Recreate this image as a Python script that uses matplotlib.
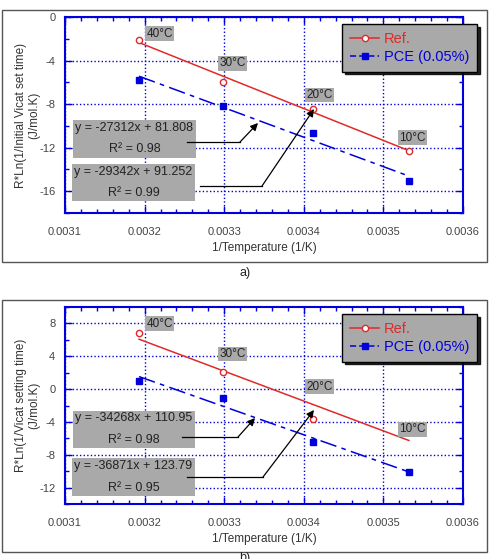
import numpy as np
import matplotlib
matplotlib.use("Agg")
import matplotlib.pyplot as plt
from matplotlib.patches import Rectangle
from matplotlib.ticker import MultipleLocator, FixedLocator

plt.rcParams['font.family'] = ['Liberation Sans', 'DejaVu Sans']

# ---------------- data ----------------
temp_labels = ['40°C', '30°C', '20°C', '10°C']
inv_temp = [0.003193, 0.003299, 0.003411, 0.003532]

a_ref = [-2.1, -5.96, -8.44, -12.3]
a_pce = [-5.78, -8.17, -10.64, -15.1]
b_ref = [6.78, 2.1, -3.6, -5.1]
b_pce = [1.02, -1.14, -6.4, -10.1]

series_names = ['Ref.', 'PCE (0.05%)']
a_eqs = [('y = -27312x + 81.808', 'R² = 0.98'), ('y = -29342x + 91.252', 'R² = 0.99')]
b_eqs = [('y = -34268x + 110.95', 'R² = 0.98'), ('y = -36871x + 123.79', 'R² = 0.95')]

x_ticks = [0.0031, 0.0032, 0.0033, 0.0034, 0.0035, 0.0036]
a_yticks = [-16, -12, -8, -4, 0]
b_yticks = [-12, -8, -4, 0, 4, 8]

ylabels = ['R*Ln(1/Initial Vicat set time)\n(J/mol.K)',
           'R*Ln(1/Vicat setting time)\n(J/mol.K)']
xlabel = '1/Temperature (1/K)'

RED = '#e02a2a'
BLUE = '#0000dd'
GRAY = '#a9a9a9'
TXT = '#444444'

fig = plt.figure(figsize=(4.9, 5.59), dpi=100)

# outer frames
for y0 in (1 - 262 / 559, 1 - 552 / 559):
    fig.patches.append(Rectangle((2 / 490, y0), 485 / 490, 252 / 559,
                                 transform=fig.transFigure, fill=False,
                                 edgecolor='#555555', lw=1.0))

axA = fig.add_axes([65 / 490, 1 - 213 / 559, 398 / 490, 196 / 559])
axB = fig.add_axes([65 / 490, 1 - 504 / 559, 398 / 490, 197 / 559])


def setup(ax, ylim, yticks, ylabel):
    ax.set_xlim(0.0031, 0.0036)
    ax.set_ylim(*ylim)
    ax.xaxis.set_major_locator(FixedLocator(x_ticks))
    ax.xaxis.set_minor_locator(MultipleLocator(0.00002))
    ax.yaxis.set_major_locator(FixedLocator(yticks))
    ax.yaxis.set_minor_locator(MultipleLocator(2))
    ax.set_xticklabels([f'{v:.4f}' for v in x_ticks])
    ax.set_yticklabels([f'{v:g}' for v in yticks])
    ax.tick_params(which='both', direction='in', top=True, right=True,
                   color=BLUE, labelcolor=TXT, labelsize=8)
    ax.tick_params(which='major', length=5, width=1)
    ax.tick_params(which='minor', length=3, width=1)
    ax.tick_params(axis='x', pad=10)
    ax.tick_params(axis='y', pad=7)
    for s in ax.spines.values():
        s.set_color(BLUE)
        s.set_linewidth(1.5)
    ax.grid(True, which='major', color=BLUE, linestyle=(0, (1, 1.6)), lw=1.0)
    ax.set_axisbelow(True)
    ax.set_ylabel(ylabel, fontsize=8.5, color='#333333', linespacing=1.1)
    ax.yaxis.set_label_coords(-0.062, 0.50)
    ax.set_xlabel(xlabel, fontsize=8.5, color='#333333')
    ax.xaxis.set_label_coords(0.5, -0.147)
    ax.xaxis.label.set_verticalalignment('top')


def draw(ax, ref, pce, eqs, label_pos, eq_boxes, arrows, leg_top):
    x = np.array(inv_temp)
    xl = np.array([x.min(), x.max()])
    # fit lines
    for y, col, ls in ((ref, RED, '-'), (pce, BLUE, (0, (11, 3.5, 3, 3.5)))):
        k, c = np.polyfit(x, y, 1)
        ax.plot(xl, k * xl + c, color=col, ls=ls, lw=1.1, zorder=3)
    ax.plot(x, ref, ls='none', marker='o', ms=4.5, mfc='white', mec=RED,
            mew=1.0, zorder=4)
    ax.plot(x, pce, ls='none', marker='s', ms=5, mfc=BLUE, mec=BLUE, zorder=4)
    # legend proxies
    h1, = ax.plot([], [], color=RED, ls='-', lw=1.1, marker='o', ms=4.5,
                  mfc='white', mec=RED, label=series_names[0])
    h2, = ax.plot([], [], color=BLUE, ls=(0, (4, 2)), lw=1.1, marker='s', ms=5,
                  mfc=BLUE, mec=BLUE, label=series_names[1])
    leg = ax.legend(handles=[h1, h2], loc='upper right',
                    bbox_to_anchor=(1.035, leg_top), fontsize=10.5,
                    labelcolor='linecolor', frameon=True, fancybox=False,
                    shadow={'color': 'black', 'alpha': 0.85},
                    facecolor=GRAY, edgecolor='black', framealpha=1,
                    handlelength=2.0, handletextpad=0.3, borderpad=0.55,
                    labelspacing=0.25, numpoints=1, borderaxespad=0)
    leg.get_frame().set_linewidth(1.0)
    leg.set_zorder(10)
    # temperature labels
    for t, (px, py) in zip(temp_labels, label_pos):
        ax.text(px, py, t, transform=ax.transAxes, ha='center', va='center',
                fontsize=8.5, color='#222222', zorder=6,
                bbox=dict(boxstyle='square,pad=0.12', fc=GRAY, ec='none'))
    # equation boxes
    for (l1, l2), (x0, x1, y0, y1, ty1, ty2) in zip(eqs, eq_boxes):
        ax.add_patch(Rectangle((x0, y0), x1 - x0, y1 - y0, transform=ax.transAxes,
                               fc=GRAY, ec='none', zorder=5))
        xc = (x0 + x1) / 2
        ax.text(xc, ty1, l1, transform=ax.transAxes, ha='center', va='center',
                fontsize=9, color='#222222', zorder=6)
        ax.text(xc, ty2, l2, transform=ax.transAxes, ha='center', va='center',
                fontsize=9, color='#222222', zorder=6)
    # arrows
    for (p0, p1, p2) in arrows:
        ax.plot([p0[0], p1[0]], [p0[1], p1[1]], color='black', lw=0.9,
                transform=ax.transAxes, zorder=7)
        ax.annotate('', xy=p2, xytext=p1, xycoords='axes fraction',
                    textcoords='axes fraction', zorder=7,
                    arrowprops=dict(arrowstyle='-|>', color='black', lw=0.9,
                                    mutation_scale=11, shrinkA=0, shrinkB=0))


setup(axA, (-18, 0), a_yticks, ylabels[0])
setup(axB, (-14, 10), b_yticks, ylabels[1])

draw(axA, a_ref, a_pce, a_eqs,
     [(0.2374, 0.9158), (0.4209, 0.7628), (0.6394, 0.602), (0.8731, 0.3852)],
     [(0.0201, 0.329, 0.2806, 0.4745, 0.4337, 0.3265),
      (0.0176, 0.3266, 0.0612, 0.25, 0.209, 0.102)],
     [((0.3065, 0.3622), (0.4397, 0.3622), (0.4849, 0.4592)),
      ((0.3392, 0.1378), (0.495, 0.1378), (0.6256, 0.5306))],
     0.9643)

draw(axB, b_ref, b_pce, b_eqs,
     [(0.2374, 0.9162), (0.4209, 0.7614), (0.6394, 0.5964), (0.8731, 0.3782)],
     [(0.0201, 0.3266, 0.2843, 0.4721, 0.438, 0.325),
      (0.0176, 0.3266, 0.0406, 0.2335, 0.193, 0.083)],
     [((0.294, 0.3401), (0.4347, 0.3401), (0.4774, 0.4365)),
      ((0.3065, 0.137), (0.4975, 0.137), (0.6256, 0.4772))],
     0.9645)

fig.text(245 / 490, 1 - 273 / 559, 'a)', ha='center', va='center', fontsize=9,
         color='#222222')
fig.text(245 / 490, 1 - 552 / 559, 'b)', ha='center', va='top', fontsize=9,
         color='#222222')

fig.savefig('out.png', dpi=100)
